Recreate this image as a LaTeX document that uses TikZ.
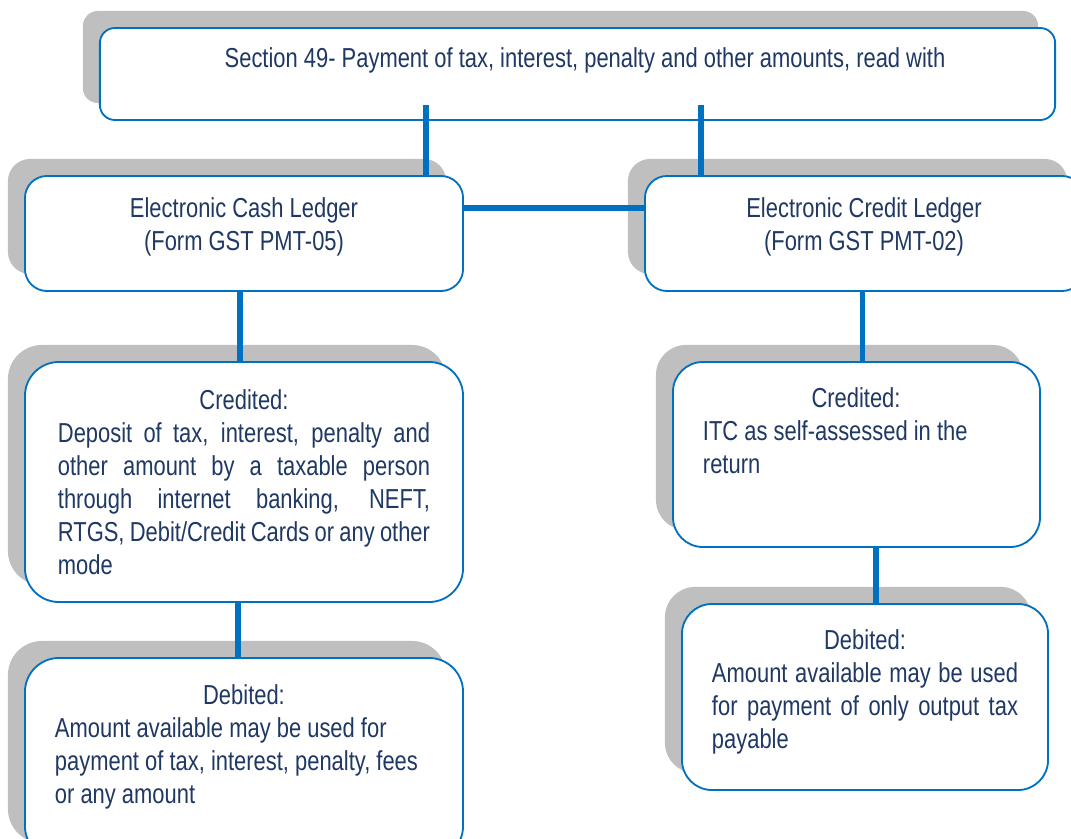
\documentclass[tikz,border=0pt]{standalone}
\usepackage{fontspec}
\setmainfont{Liberation Sans}[FakeStretch=0.8]
\usetikzlibrary{shadows}
\definecolor{boxblue}{RGB}{0,112,192}
\definecolor{shadowgray}{RGB}{191,191,191}
\definecolor{txtblue}{RGB}{31,56,100}
\setlength{\parindent}{0pt}
\tikzset{
  card/.style={draw=boxblue, line width=1.3pt, fill=white, inner sep=0pt,
    drop shadow={shadow xshift=-0.425cm, shadow yshift=0.425cm, fill=shadowgray, opacity=1}},
  link/.style={draw=boxblue, line width=3.6pt},
  txt/.style={text=txtblue, inner sep=0pt, font=\fontsize{19.5}{23.5}\selectfont}
}
\begin{document}
\begin{tikzpicture}[x=0.025cm, y=-0.025cm]
            \useasboundingbox (0,0) rectangle (1071,839);
            % boxes
            \node[card, rounded corners=0.375cm, minimum width=23.875cm, minimum height=2.3cm] (sec) at (577.5,74) {};
            \node[card, rounded corners=0.55cm, minimum width=10.95cm, minimum height=2.875cm] (cash) at (244,233.5) {};
            \node[card, rounded corners=0.55cm, minimum width=10.975cm, minimum height=2.875cm] (credit) at (864.5,233.5) {};
            \node[card, rounded corners=0.85cm, minimum width=10.95cm, minimum height=6cm] (credL) at (244,482) {};
            \node[card, rounded corners=0.85cm, minimum width=10.95cm, minimum height=5.05cm] (debL) at (244,759) {};
            \node[card, rounded corners=0.75cm, minimum width=9.175cm, minimum height=4.625cm] (credR) at (856.5,454.5) {};
            \node[card, rounded corners=0.75cm, minimum width=9.15cm, minimum height=4.65cm] (debR) at (865,697) {};
            % connectors
            \coordinate (tl) at (426,105);
            \coordinate (tr) at (701,105);
            \coordinate (hl) at (550,208);
            \draw[link] (tl) -- (tl |- cash.north);
            \draw[link] (tr) -- (tr |- credit.north);
            \draw[link] (cash.east |- hl) -- (credit.west |- hl);
            \draw[link] ([xshift=-0.1cm]cash.south) -- ([xshift=-0.1cm]credL.north);
            \draw[link] ([xshift=-0.15cm]credL.south) -- ([xshift=-0.15cm]debL.north);
            \draw[link] ([xshift=-0.05cm]credit.south) -- ([xshift=-0.05cm]credit.south |- credR.north);
            \draw[link] ([xshift=0.275cm]debR.north |- credR.south) -- ([xshift=0.275cm]debR.north);
            % texts
            \node[txt, anchor=base] (sectxt) at (585,68) {Section 49- Payment of tax, interest, penalty and other amounts, read with};
            \node[txt, below, align=center] (cashtxt) at (244,197) {Electronic Cash Ledger\\(Form GST PMT-05)};
            \node[txt, below, align=center] (credittxt) at (864,197) {Electronic Credit Ledger\\(Form GST PMT-02)};
            \node[txt, below, text width=9.3cm, align=justify] (credLtxt) at (244,389) {{\centering Credited:\par}Deposit of tax, interest, penalty and\linebreak other amount by a taxable person\linebreak through internet banking, NEFT,\linebreak RTGS, Debit/Credit Cards or any other\linebreak mode};
            \node[txt, below, text width=9.45cm, align=flush left] (debLtxt) at (244,684) {{\centering Debited:\par}Amount available may be used for\\payment of tax, interest, penalty, fees\\or any amount};
            \node[txt, below, text width=7.65cm, align=flush left] (credRtxt) at (856,387) {{\centering Credited:\par}ITC as self-assessed in the\\return};
            \node[txt, below, text width=7.65cm, align=justify] (debRtxt) at (865,629) {{\centering Debited:\par}Amount available may be used\linebreak for payment of only output tax\linebreak payable};
\end{tikzpicture}
\end{document}
